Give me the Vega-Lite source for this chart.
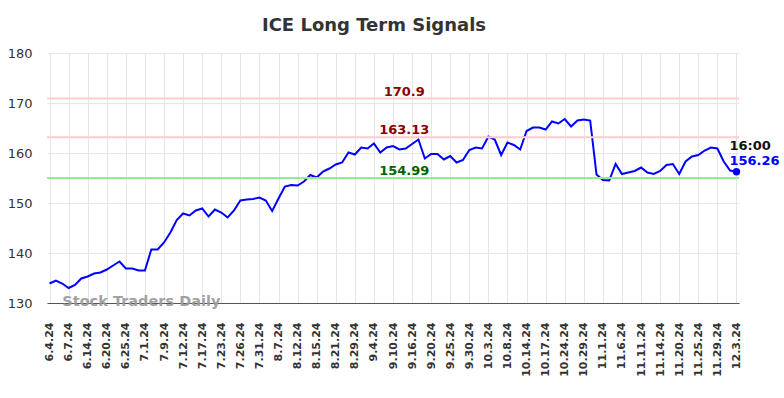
{
  "$schema": "https://vega.github.io/schema/vega-lite/v6.json",
  "autosize": {"type": "none"},
  "width": 692,
  "height": 250,
  "padding": {"left": 47, "top": 53, "right": 45, "bottom": 95},
  "background": "white",
  "config": {
    "font": "DejaVu Sans",
    "view": {"stroke": null},
    "title": {"font": "DejaVu Sans"}
  },
  "title": {
    "text": "ICE Long Term Signals",
    "fontSize": 18,
    "fontWeight": "bold",
    "color": "#333333",
    "anchor": "middle",
    "frame": "group",
    "baseline": "top",
    "offset": 12,
    "dx": -19
  },
  "datasets": {
    "prices": [
      {"d": "6.4.24", "v": 133.9}, {"d": "6.5.24", "v": 134.5}, {"d": "6.6.24", "v": 133.9},
      {"d": "6.7.24", "v": 133.0}, {"d": "6.10.24", "v": 133.6}, {"d": "6.12.24", "v": 134.9},
      {"d": "6.14.24", "v": 135.3}, {"d": "6.17.24", "v": 135.9}, {"d": "6.18.24", "v": 136.1},
      {"d": "6.20.24", "v": 136.7}, {"d": "6.21.24", "v": 137.5}, {"d": "6.24.24", "v": 138.3},
      {"d": "6.25.24", "v": 136.9}, {"d": "6.26.24", "v": 136.9}, {"d": "6.27.24", "v": 136.5},
      {"d": "7.1.24", "v": 136.5}, {"d": "7.3.24", "v": 140.7}, {"d": "7.5.24", "v": 140.7},
      {"d": "7.9.24", "v": 142.1}, {"d": "7.10.24", "v": 144.1}, {"d": "7.11.24", "v": 146.6},
      {"d": "7.12.24", "v": 147.9}, {"d": "7.15.24", "v": 147.5}, {"d": "7.16.24", "v": 148.5},
      {"d": "7.17.24", "v": 148.9}, {"d": "7.18.24", "v": 147.3}, {"d": "7.22.24", "v": 148.7},
      {"d": "7.23.24", "v": 148.1}, {"d": "7.24.24", "v": 147.1}, {"d": "7.25.24", "v": 148.5},
      {"d": "7.26.24", "v": 150.5}, {"d": "7.29.24", "v": 150.7}, {"d": "7.30.24", "v": 150.8},
      {"d": "7.31.24", "v": 151.1}, {"d": "8.2.24", "v": 150.5}, {"d": "8.5.24", "v": 148.4},
      {"d": "8.7.24", "v": 150.9}, {"d": "8.8.24", "v": 153.3}, {"d": "8.9.24", "v": 153.6},
      {"d": "8.12.24", "v": 153.5}, {"d": "8.13.24", "v": 154.3}, {"d": "8.14.24", "v": 155.6},
      {"d": "8.15.24", "v": 155.1}, {"d": "8.19.24", "v": 156.3}, {"d": "8.20.24", "v": 156.9},
      {"d": "8.21.24", "v": 157.7}, {"d": "8.23.24", "v": 158.1}, {"d": "8.27.24", "v": 160.1},
      {"d": "8.29.24", "v": 159.7}, {"d": "8.30.24", "v": 161.1}, {"d": "9.3.24", "v": 160.9},
      {"d": "9.4.24", "v": 161.9}, {"d": "9.6.24", "v": 160.1}, {"d": "9.9.24", "v": 161.1},
      {"d": "9.10.24", "v": 161.4}, {"d": "9.12.24", "v": 160.7}, {"d": "9.13.24", "v": 160.9},
      {"d": "9.16.24", "v": 161.8}, {"d": "9.18.24", "v": 162.7}, {"d": "9.19.24", "v": 158.9},
      {"d": "9.20.24", "v": 159.8}, {"d": "9.23.24", "v": 159.8}, {"d": "9.24.24", "v": 158.7},
      {"d": "9.25.24", "v": 159.4}, {"d": "9.26.24", "v": 158.1}, {"d": "9.27.24", "v": 158.6},
      {"d": "9.30.24", "v": 160.6}, {"d": "10.1.24", "v": 161.1}, {"d": "10.2.24", "v": 160.9},
      {"d": "10.3.24", "v": 163.3}, {"d": "10.4.24", "v": 162.7}, {"d": "10.7.24", "v": 159.6},
      {"d": "10.8.24", "v": 162.1}, {"d": "10.10.24", "v": 161.6}, {"d": "10.11.24", "v": 160.7},
      {"d": "10.14.24", "v": 164.4}, {"d": "10.15.24", "v": 165.1}, {"d": "10.16.24", "v": 165.1},
      {"d": "10.17.24", "v": 164.7}, {"d": "10.21.24", "v": 166.3}, {"d": "10.23.24", "v": 165.9},
      {"d": "10.24.24", "v": 166.8}, {"d": "10.25.24", "v": 165.3}, {"d": "10.28.24", "v": 166.5},
      {"d": "10.29.24", "v": 166.7}, {"d": "10.30.24", "v": 166.5}, {"d": "10.31.24", "v": 155.7},
      {"d": "11.1.24", "v": 154.6}, {"d": "11.4.24", "v": 154.5}, {"d": "11.5.24", "v": 157.8},
      {"d": "11.6.24", "v": 155.8}, {"d": "11.7.24", "v": 156.1}, {"d": "11.8.24", "v": 156.4},
      {"d": "11.11.24", "v": 157.1}, {"d": "11.12.24", "v": 156.1}, {"d": "11.13.24", "v": 155.8},
      {"d": "11.14.24", "v": 156.4}, {"d": "11.18.24", "v": 157.6}, {"d": "11.19.24", "v": 157.8},
      {"d": "11.20.24", "v": 155.8}, {"d": "11.21.24", "v": 158.3}, {"d": "11.22.24", "v": 159.3},
      {"d": "11.25.24", "v": 159.6}, {"d": "11.26.24", "v": 160.5}, {"d": "11.27.24", "v": 161.1},
      {"d": "11.29.24", "v": 160.9}, {"d": "12.2.24", "v": 158.3}, {"d": "12.2.24 16:00", "v": 156.5},
      {"d": "12.3.24", "v": 156.26}
    ],
    "levels": [
      {"level": 170.9, "label": "170.9", "kind": "resistance"},
      {"level": 163.13, "label": "163.13", "kind": "resistance"},
      {"level": 154.99, "label": "154.99", "kind": "support"}
    ]
  },
  "layer": [
    {
      "data": {"name": "prices"},
      "mark": {"type": "line", "color": "#0000ff", "strokeWidth": 2},
      "encoding": {
        "x": {
          "field": "d", "type": "ordinal", "sort": null,
          "scale": {"type": "point", "padding": 0.4},
          "axis": {
            "title": null,
            "values": ["6.4.24","6.7.24","6.14.24","6.20.24","6.25.24","7.1.24","7.9.24","7.12.24","7.17.24","7.23.24","7.26.24","7.31.24","8.7.24","8.12.24","8.15.24","8.21.24","8.29.24","9.4.24","9.10.24","9.16.24","9.20.24","9.25.24","9.30.24","10.3.24","10.8.24","10.14.24","10.17.24","10.24.24","10.29.24","11.1.24","11.6.24","11.11.24","11.14.24","11.20.24","11.25.24","11.29.24","12.3.24"],
            "labelAngle": -90, "labelAlign": "right", "labelBaseline": "middle",
            "labelFontSize": 11, "labelFontWeight": "bold", "labelColor": "#333333",
            "labelPadding": 19, "ticks": false,
            "grid": true, "gridColor": "#e6e6e6", "gridWidth": 1,
            "domain": true, "domainColor": "#555555", "domainWidth": 1.2
          }
        },
        "y": {
          "field": "v", "type": "quantitative",
          "scale": {"domain": [130, 180], "nice": false, "zero": false},
          "axis": {
            "title": null, "values": [130,140,150,160,170,180],
            "labelFontSize": 13, "labelColor": "#333333", "labelPadding": 15,
            "ticks": false, "domain": false,
            "grid": true, "gridColor": "#e6e6e6", "gridWidth": 1
          }
        }
      }
    },
    {
      "data": {"name": "levels"},
      "mark": {"type": "rule", "strokeWidth": 2},
      "encoding": {
        "y": {"field": "level", "type": "quantitative"},
        "color": {"field": "kind", "type": "nominal", "legend": null,
          "scale": {"domain": ["resistance", "support"], "range": ["#ffcccc", "#90ee90"]}}
      }
    },
    {
      "data": {"name": "levels"},
      "mark": {"type": "text", "fontSize": 13, "fontWeight": "bold", "baseline": "alphabetic", "align": "center", "dy": -3, "dx": -1.5},
      "encoding": {
        "x": {"datum": "9.13.24", "type": "ordinal"},
        "y": {"field": "level", "type": "quantitative"},
        "text": {"field": "label"},
        "fill": {"field": "kind", "type": "nominal", "legend": null,
          "scale": {"domain": ["resistance", "support"], "range": ["#8b0000", "#006400"]}}
      }
    },
    {
      "data": {"name": "prices"},
      "transform": [{"filter": "datum.d == '12.3.24'"}],
      "mark": {"type": "point", "filled": true, "color": "#0000ff", "size": 55, "opacity": 1},
      "encoding": {
        "x": {"field": "d", "type": "ordinal", "sort": null},
        "y": {"field": "v", "type": "quantitative"}
      }
    },
    {
      "data": {"name": "prices"},
      "transform": [{"filter": "datum.d == '12.3.24'"}],
      "mark": {"type": "text", "fontSize": 13, "fontWeight": "bold", "align": "left", "baseline": "alphabetic", "dx": -7, "dy": -6.5, "color": "#0000ff"},
      "encoding": {
        "x": {"field": "d", "type": "ordinal", "sort": null},
        "y": {"field": "v", "type": "quantitative"},
        "text": {"field": "v", "type": "quantitative", "format": ".2f"}
      }
    },
    {
      "data": {"name": "prices"},
      "transform": [{"filter": "datum.d == '12.3.24'"}],
      "mark": {"type": "text", "fontSize": 13, "fontWeight": "bold", "align": "left", "baseline": "alphabetic", "dx": -7, "dy": -21.5, "color": "#111111", "text": "16:00"},
      "encoding": {
        "x": {"field": "d", "type": "ordinal", "sort": null},
        "y": {"field": "v", "type": "quantitative"}
      }
    },
    {
      "data": {"values": [{"t": "Stock Traders Daily"}]},
      "mark": {"type": "text", "fontSize": 14.5, "fontWeight": "bold", "align": "left", "baseline": "middle", "color": "#999999", "opacity": 0.9, "dy": -1},
      "encoding": {
        "x": {"datum": "6.6.24", "type": "ordinal"},
        "y": {"datum": 130, "type": "quantitative"},
        "text": {"field": "t"}
      }
    }
  ],
  "resolve": {"scale": {"color": "independent", "fill": "independent"}}
}
